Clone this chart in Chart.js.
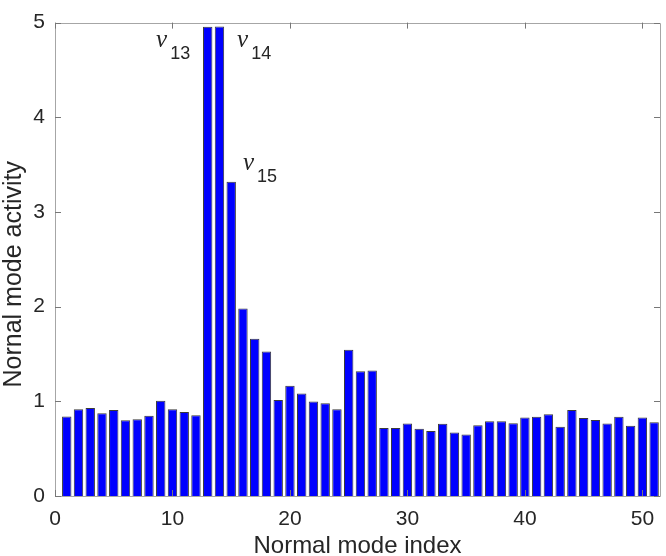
<!DOCTYPE html>
<html>
<head>
<meta charset="utf-8">
<script src="https://cdn.jsdelivr.net/npm/chart.js@4"></script>
<style>
html,body{margin:0;padding:0;background:#fff;}
#wrap{width:666px;height:556px;}
</style>
</head>
<body>
<div id="wrap"><canvas id="c" width="666" height="556"></canvas></div>
<script>
const modeIndex = [1,2,3,4,5,6,7,8,9,10,11,12,13,14,15,16,17,18,19,20,21,22,23,24,25,26,27,28,29,30,31,32,33,34,35,36,37,38,39,40,41,42,43,44,45,46,47,48,49,50,51];
const activity = [0.84,0.915,0.93,0.874,0.908,0.80,0.81,0.847,1.007,0.915,0.888,0.854,4.955,4.96,3.32,1.98,1.66,1.527,1.014,1.165,1.083,0.997,0.98,0.915,1.544,1.318,1.325,0.717,0.717,0.765,0.71,0.686,0.762,0.67,0.649,0.748,0.789,0.789,0.768,0.83,0.837,0.864,0.731,0.908,0.823,0.802,0.765,0.837,0.741,0.83,0.779];
const xTicks = [0,10,20,30,40,50];
const yTicks = [0,1,2,3,4,5];
const labelNames = ['13','14','15'];
const labelX = [8.6,15.5,16.0];
const labelY = [4.74,4.74,3.44];
const yTitle = 'Nornal mode activity';
const xTitle = 'Normal mode index';

const boxPlugin = {
  id:'box',
  afterDatasetsDraw(chart){
    const {ctx, chartArea:a, scales:{x,y}} = chart;
    ctx.save();
    ctx.strokeStyle = '#a6a6a6';
    ctx.lineWidth = 1;
    ctx.beginPath();
    ctx.rect(Math.round(a.left)+0.5, Math.round(a.top)+0.5, Math.round(a.right-a.left), Math.round(a.bottom-a.top));
    ctx.stroke();
    ctx.strokeStyle = '#777';
    ctx.beginPath();
    xTicks.forEach(v=>{
      const px = Math.round(x.getPixelForValue(v))+0.5;
      ctx.moveTo(px,a.bottom); ctx.lineTo(px,a.bottom-6);
      ctx.moveTo(px,a.top); ctx.lineTo(px,a.top+6);
    });
    yTicks.forEach(v=>{
      const py = Math.round(y.getPixelForValue(v))+0.5;
      ctx.moveTo(a.left,py); ctx.lineTo(a.left+6,py);
      ctx.moveTo(a.right,py); ctx.lineTo(a.right-6,py);
    });
    ctx.stroke();
    // annotations
    ctx.fillStyle = '#262626';
    ctx.textBaseline = 'alphabetic';
    ctx.textAlign = 'left';
    labelNames.forEach((n,i)=>{
      const px = x.getPixelForValue(labelX[i]);
      const py = y.getPixelForValue(labelY[i]);
      ctx.font = 'italic 25px "Liberation Serif"';
      ctx.fillText('\u03bd', px, py);
      const w = ctx.measureText('\u03bd').width;
      ctx.font = '18px "Liberation Sans"';
      ctx.fillText(n, px + w + 3, py + 12);
    });
    // y title
    ctx.save();
    ctx.translate(21, (a.top + a.bottom)/2 + 15);
    ctx.rotate(-Math.PI/2);
    ctx.textAlign = 'center';
    ctx.textBaseline = 'alphabetic';
    ctx.font = '25px "Liberation Sans"';
    ctx.fillText(yTitle, 0, 0);
    ctx.restore();
    ctx.restore();
  }
};

new Chart(document.getElementById('c'), {
  type:'bar',
  data:{
    datasets:[{
      data: modeIndex.map((m,i)=>({x:m, y:activity[i]})),
      backgroundColor:'#0000ff',
      borderColor:'#3a3a3a',
      borderWidth:1,
      categoryPercentage:1,
      barPercentage:0.8
    }]
  },
  options:{
    responsive:false,
    animation:false,
    devicePixelRatio:1,
    layout:{padding:{top:8,right:6,left:0,bottom:0}},
    plugins:{legend:{display:false},tooltip:{enabled:false}},
    scales:{
      x:{
        type:'linear', min:0, max:51.5, offset:false,
        grid:{display:false, drawTicks:false},
        border:{display:false},
        ticks:{stepSize:10, includeBounds:false, padding:11, color:'#262626', font:{family:'"Liberation Sans"', size:21}, maxRotation:0},
        title:{display:true, text:xTitle, color:'#262626', font:{family:'"Liberation Sans"', size:24, lineHeight:1}, padding:{top:0,bottom:-2}},
        afterFit(s){ s.height = 60; }
      },
      y:{
        min:0, max:5,
        grid:{display:false, drawTicks:false},
        border:{display:false},
        ticks:{stepSize:1, padding:10, color:'#262626', font:{family:'"Liberation Sans"', size:21}},
        title:{display:false},
        afterFit(s){ s.width = 55; }
      }
    }
  },
  plugins:[boxPlugin]
});
</script>
</body>
</html>
